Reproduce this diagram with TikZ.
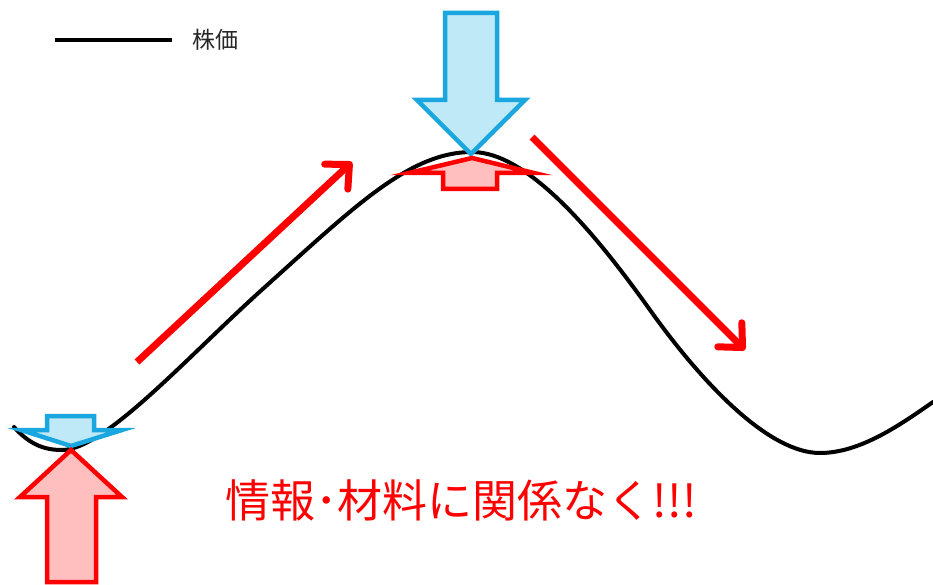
\documentclass[tikz,border=0pt]{standalone}
\usepackage{fontspec}
\newfontfamily\jp{Noto Sans CJK JP}
\usetikzlibrary{arrows.meta}
\definecolor{rd}{HTML}{FF0000}
\definecolor{pinkfill}{HTML}{FFBFBF}
\definecolor{bl}{HTML}{1AA7E0}
\definecolor{bluefill}{HTML}{BFE9F7}
\tikzset{
  blockred/.style={draw=rd, fill=pinkfill, line width=4.5pt, line join=miter, miter limit=12},
  blockblue/.style={draw=bl, fill=bluefill, line width=4.5pt, line join=miter, miter limit=12},
  trend/.style={draw=rd, line width=7pt, -{Straight Barb[length=18pt,width=34pt,line cap=round,line join=round]}},
  price/.style={line width=4pt, line cap=round}
}
\begin{document}
\begin{tikzpicture}[x=1pt,y=-1pt]
\useasboundingbox (0,0) rectangle (933,585);
\fill[white] (0,0) rectangle (933,585);
% price curve
\coordinate (p0) at (14,427);
\coordinate (p1) at (62,450);
\coordinate (p2) at (265,287);
\coordinate (p3) at (472,152);
\coordinate (p4) at (650,310);
\coordinate (p5) at (820,453);
\coordinate (p6) at (933,402);
\draw[price] (p0) .. controls (30,445) and (45,450) .. (p1)
  .. controls (105,450) and (190,354) .. (p2)
  .. controls (355,206) and (410,152) .. (p3)
  .. controls (530,152) and (600,240) .. (p4)
  .. controls (705,387) and (770,453) .. (p5)
  .. controls (860,453) and (900,425) .. (p6);
% legend
\coordinate (l1) at (55,40);
\coordinate (l2) at (172,40);
\draw[line width=4.5pt] (l1) -- (l2);
\node[font=\jp\fontsize{23}{23}\selectfont, anchor=west, text=black!85, inner sep=0pt] (leg) at (192,40) {株価};
% trend arrows
\coordinate (u1) at (137,362);
\coordinate (u2) at (352,162);
\draw[trend] (u1) -- (u2);
\coordinate (d1) at (532,137);
\coordinate (d2) at (745,350);
\draw[trend] (d1) -- (d2);
% top blue arrow
\draw[blockblue] (445,13) -- (497,13) -- (497,100) -- (525,100) -- (471,154) -- (417,100) -- (445,100) -- cycle;
% small red arrow at peak
\draw[blockred] (443,189) -- (497,189) -- (497,173) -- (534,173) -- (472,158) -- (409,173) -- (443,173) -- cycle;
% small blue arrow at bottom
\draw[blockblue] (47,416) -- (94,416) -- (94,430) -- (122,430) -- (71,446) -- (21,430) -- (47,430) -- cycle;
% big red arrow at bottom
\draw[blockred] (47,582) -- (96,582) -- (96,497) -- (122,497) -- (71,450) -- (20,497) -- (47,497) -- cycle;
% message
\node[font=\jp\fontsize{45}{45}\selectfont, text=rd, inner sep=0pt] (msg) at (461,500) {情報･材料に関係なく!!!};
\end{tikzpicture}
\end{document}
